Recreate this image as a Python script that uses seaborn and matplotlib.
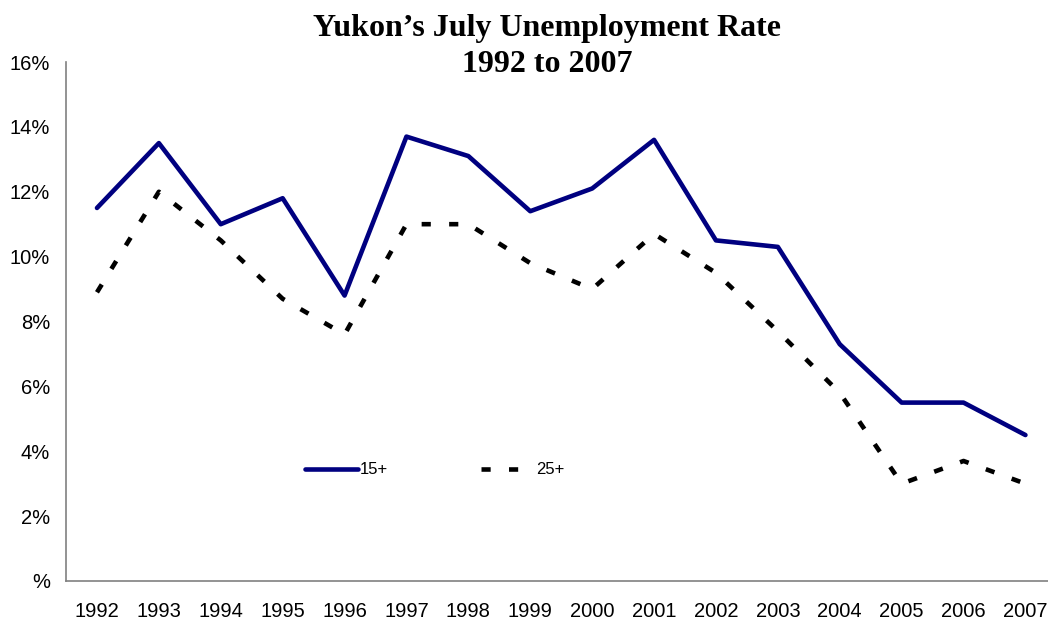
import matplotlib
matplotlib.use("Agg")
from matplotlib import pyplot as plt
from matplotlib.ticker import FuncFormatter
import seaborn as sns
import pandas as pd

# values (percent)
years = [1992, 1993, 1994, 1995, 1996, 1997, 1998, 1999,
         2000, 2001, 2002, 2003, 2004, 2005, 2006, 2007]
rate_15 = [11.5, 13.5, 11.0, 11.8, 8.8, 13.7, 13.1, 11.4,
           12.1, 13.6, 10.5, 10.3, 7.3, 5.5, 5.5, 4.5]
rate_25 = [8.9, 12.0, 10.5, 8.7, 7.6, 11.0, 11.0, 9.8,
           9.0, 10.7, 9.5, 7.7, 5.8, 3.0, 3.7, 3.0]
groups = ["15+", "25+"]

df = pd.DataFrame({
    "year": [str(y) for y in years] * 2,
    "rate": rate_15 + rate_25,
    "group": [groups[0]] * len(years) + [groups[1]] * len(years),
})

sns.set_style("white", {"text.color": "black", "xtick.color": "black",
                        "ytick.color": "black", "axes.labelcolor": "black"})
plt.rcParams["font.family"] = ["Liberation Sans", "DejaVu Sans"]

fig = plt.figure(figsize=(10.48, 6.25), dpi=100)
# axes run a little past the right edge, like the original
ax = fig.add_axes([0.063, 0.0704, 0.945, 0.8304])

sns.lineplot(data=df, x="year", y="rate", hue="group", style="group",
             palette={"15+": "#000080", "25+": "black"},
             dashes={"15+": "", "25+": (2.0, 4.0)},
             linewidth=3.3, sort=False, ax=ax)

ax.set_xlim(-0.5, 15.5)
ax.set_ylim(0, 16)
ax.set_yticks(range(0, 17, 2))
ax.yaxis.set_major_formatter(FuncFormatter(lambda v, p: f"{int(v)}%" if v else "%"))
ax.set_xlabel("")
ax.set_ylabel("")
ax.tick_params(axis="both", labelsize=14.5, length=0, labelcolor="black")
ax.tick_params(axis="x", pad=15)
ax.tick_params(axis="y", pad=11.5)

for side in ["top", "right"]:
    ax.spines[side].set_visible(False)
for side in ["left", "bottom"]:
    ax.spines[side].set_color("#808080")
    ax.spines[side].set_linewidth(1.2)

ax.legend(loc="center left", bbox_to_anchor=(0.241, 0.214), ncol=2,
          frameon=False, fontsize=12, handlelength=3.2,
          handletextpad=0.1, columnspacing=5.6,
          borderpad=0, borderaxespad=0)

fig.text(0.522, 1 - 14 / 625, "Yukon\u2019s July Unemployment Rate\n1992 to 2007",
         ha="center", va="top", fontsize=23, fontweight="bold", color="black",
         family=["Liberation Serif", "DejaVu Serif"], linespacing=1.32)

fig.savefig("out.png", dpi=100)
